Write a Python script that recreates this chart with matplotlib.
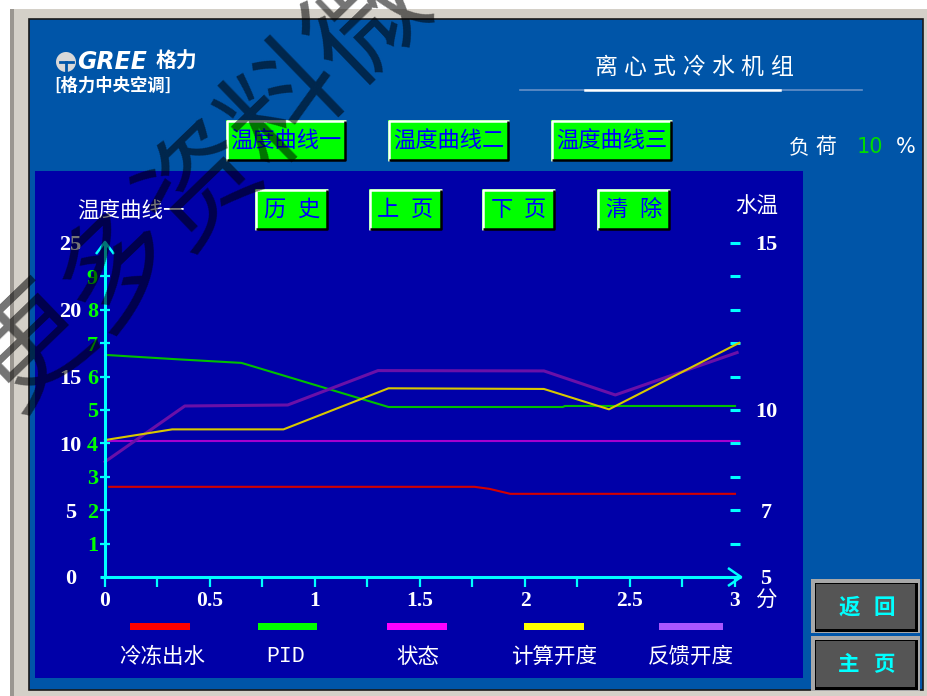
import matplotlib
matplotlib.use('Agg')
import matplotlib.pyplot as plt
from matplotlib.patches import Rectangle, Circle

plt.rcParams['font.family'] = ['Noto Sans CJK SC', 'DejaVu Sans']

# ---------------- data (primary inner scale 0..10) ----------------
red_x = [0.02, 1.76, 1.83, 1.93, 3.0]
red_y = [2.70, 2.70, 2.64, 2.49, 2.49]
pid_x = [0.0, 0.34, 0.65, 1.35, 2.18, 2.19, 3.0]
pid_y = [6.65, 6.52, 6.41, 5.09, 5.09, 5.12, 5.12]
state_x = [0.0, 3.02]
state_y = [4.06, 4.06]
calc_x = [0.0, 0.32, 0.85, 1.35, 2.09, 2.40, 3.02]
calc_y = [4.10, 4.42, 4.42, 5.65, 5.63, 5.02, 7.01]
fb_x = [0.0, 0.38, 0.87, 1.30, 2.09, 2.43, 3.01]
fb_y = [3.45, 5.12, 5.15, 6.18, 6.17, 5.45, 6.72]

series_names = ['冷冻出水', 'PID', '状态', '计算开度', '反馈开度']
line_colors = ['#D40000', '#00C000', '#A400D0', '#D8C800', '#6A10A8']
legend_colors = ['#FF0000', '#00FF00', '#FF00FF', '#FFFF00', '#AA55FF']

x_ticks = [0, 0.25, 0.5, 0.75, 1, 1.25, 1.5, 1.75, 2, 2.25, 2.5, 2.75, 3]
x_labels = ['0', '', '0.5', '', '1', '', '1.5', '', '2', '', '2.5', '', '3']
inner_ticks = [1, 2, 3, 4, 5, 6, 7, 8, 9]
outer_left_ticks = [0, 5, 10, 15, 20, 25]
water_ticks = [5, 6, 7, 8, 9, 10, 11, 12, 13, 14, 15]
water_labels = ['5', '', '7', '', '', '10', '', '', '', '', '15']

top_buttons = ['温度曲线一', '温度曲线二', '温度曲线三']
nav_buttons = [('历', '史'), ('上', '页'), ('下', '页'), ('清', '除')]

W, H = 928, 696
CYAN = '#00FFFF'
SERIF = ['Liberation Serif', 'DejaVu Serif']
CJK = ['Noto Sans CJK SC', 'DejaVu Sans']

fig = plt.figure(figsize=(W / 100, H / 100), dpi=100, facecolor='white')
bg = fig.add_axes([0, 0, 1, 1])
bg.set_xlim(0, W)
bg.set_ylim(H, 0)
bg.axis('off')


def rect(x0, y0, x1, y1, **kw):
    bg.add_patch(Rectangle((x0, y0), x1 - x0, y1 - y0, **kw))


# frame and panels
rect(10, 9, 928, 696, fc='#D4D0C8', ec='none')
rect(10, 9, 14, 696, fc='#9A9690', ec='none')
rect(29, 19, 923, 690, fc='#0055A8', ec='#1A1A1A', lw=1.2)
rect(35, 171, 803, 678, fc='#0000A8', ec='none')

# logo
bg.add_patch(Circle((66, 62), 10, fc='#D8D8D8', ec='none'))
bg.plot([60, 73], [62, 62], color='#0055A8', lw=2)
bg.plot([66, 66], [62, 72], color='#0055A8', lw=2)
bg.text(77, 62, 'GREE', color='white', fontsize=17, fontstyle='italic',
        fontweight='bold', family=['DejaVu Sans'], va='center', ha='left')
bg.text(156, 61, '格力', color='white', fontsize=15, fontweight='bold',
        family=CJK, va='center', ha='left')
bg.text(54, 86, '[格力中央空调]', color='white', fontsize=12.5, fontweight='bold',
        family=CJK, va='center', ha='left')

# title
for i, ch in enumerate('离心式冷水机组'):
    bg.text(606 + 29.2 * i, 67.5, ch, color='white', fontsize=16.5,
            family=CJK, va='center', ha='center')
bg.plot([520, 862], [90, 90], color='#7F9FD0', lw=1.2, alpha=0.8)
bg.plot([585, 780], [90, 90], color='white', lw=1.8)

# load text
bg.text(799, 147, '负', color='white', fontsize=15, family=CJK, va='center', ha='center')
bg.text(826, 147, '荷', color='white', fontsize=15, family=CJK, va='center', ha='center')
bg.text(870, 147, '10', color='#00DD00', fontsize=15, family=['DejaVu Sans'],
        va='center', ha='center')
bg.text(906, 147, '%', color='white', fontsize=15, family=['DejaVu Sans'],
        va='center', ha='center')


def green_button(x0, y0, x1, y1):
    rect(x0, y0, x1, y1, fc='#00FF00', ec='none')
    bg.plot([x0 + 1, x0 + 1, x1], [y1, y0 + 1, y0 + 1], color='white', lw=1.8,
            solid_capstyle='butt')
    bg.plot([x0 + 1, x1 - 1, x1 - 1], [y1 - 1, y1 - 1, y0 + 1], color='black', lw=1.8,
            solid_capstyle='butt')


top_boxes = [(226, 120, 346, 161), (388, 120, 509, 161), (551, 120, 672, 161)]
for (x0, y0, x1, y1), lab in zip(top_boxes, top_buttons):
    green_button(x0, y0, x1, y1)
    bg.text((x0 + x1) / 2, (y0 + y1) / 2 + 1, lab, color='#0000FF', fontsize=16,
            family=CJK, va='center', ha='center')

nav_boxes = [(255, 189, 328, 230), (369, 189, 442, 230), (482, 189, 555, 230),
             (597, 189, 670, 230)]
for (x0, y0, x1, y1), (c1, c2) in zip(nav_boxes, nav_buttons):
    green_button(x0, y0, x1, y1)
    cx, cy = (x0 + x1) / 2, (y0 + y1) / 2
    bg.text(cx - 17, cy, c1, color='#0000FF', fontsize=16, family=CJK,
            va='center', ha='center')
    bg.text(cx + 17, cy, c2, color='#0000FF', fontsize=16, family=CJK,
            va='center', ha='center')

# right grey buttons
for (y0, y1, c1, c2) in [(579, 633, '返', '回'), (636, 691, '主', '页')]:
    rect(811, y0, 920, y1, fc='#A8A8A8', ec='none')
    rect(815, y0 + 4, 918, y1 - 1, fc='#000000', ec='none')
    rect(816, y0 + 5, 915, y1 - 4, fc='#555555', ec='none')
    cy = (y0 + y1) / 2 + 1
    bg.text(849, cy, c1, color=CYAN, fontsize=15.5, fontweight='bold', family=CJK,
            va='center', ha='center')
    bg.text(884, cy, c2, color=CYAN, fontsize=15.5, fontweight='bold', family=CJK,
            va='center', ha='center')

# axis titles
bg.text(131, 211, '温度曲线一', color='white', fontsize=15.5, family=CJK,
        va='center', ha='center')
bg.text(757, 207, '水温', color='white', fontsize=15.5, family=CJK,
        va='center', ha='center')
bg.text(766, 601, '分', color='white', fontsize=15.5, family=CJK,
        va='center', ha='center')

# legend
bar_spans = [(130, 190), (258, 317), (387, 447), (524, 584), (659, 723)]
label_cx = [162, 286, 418, 554, 691]
for (x0, x1), col, name, cx in zip(bar_spans, legend_colors, series_names, label_cx):
    rect(x0, 623, x1, 629.5, fc=col, ec='none')
    fam = ['Liberation Mono', 'DejaVu Sans Mono'] if name == 'PID' else CJK
    bg.text(cx, 657, name, color='white', fontsize=15.5, family=fam,
            va='center', ha='center')

# ---------------- plot axes ----------------
ax = fig.add_axes([105 / W, 1 - 577 / H, 630 / W, 334 / H])
ax.set_xlim(0, 3)
ax.set_ylim(0, 10)
ax.patch.set_alpha(0)
for s in ax.spines.values():
    s.set_visible(False)

ax.plot(red_x, red_y, color=line_colors[0], lw=1.5, clip_on=False, zorder=2)
ax.plot(pid_x, pid_y, color=line_colors[1], lw=1.5, clip_on=False, zorder=2)
ax.plot(state_x, state_y, color=line_colors[2], lw=1.5, clip_on=False, zorder=2)
ax.plot(fb_x, fb_y, color=line_colors[4], lw=2.2, clip_on=False, zorder=2)
ax.plot(calc_x, calc_y, color=line_colors[3], lw=1.5, clip_on=False, zorder=2.1)


def pa(px, py):
    return (px - 105) / 630, (577 - py) / 334


def axline(pts, **kw):
    xs, ys = zip(*[pa(p, q) for p, q in pts])
    ax.plot(xs, ys, transform=ax.transAxes, clip_on=False, color=CYAN,
            solid_capstyle='butt', zorder=3, **kw)


axline([(105, 578), (105, 242)], lw=2.2)
axline([(96, 254), (105, 242), (114, 254)], lw=1.8)
axline([(100, 577), (741, 577)], lw=2.2)
axline([(728, 568), (741, 577), (728, 586)], lw=1.8)

ax.set_xticks(x_ticks)
ax.set_xticklabels(x_labels, fontfamily=SERIF, fontweight='bold')
ax.tick_params(axis='x', direction='out', length=7, width=1.6, color=CYAN,
               labelcolor='white', labelsize=15.5, pad=3.0)

ax.set_yticks(inner_ticks)
ax.set_yticklabels([str(v) for v in inner_ticks], fontfamily=SERIF, fontweight='bold')
ax.tick_params(axis='y', direction='inout', length=6.5, width=1.6, color=CYAN,
               labelcolor='#00FF00', labelsize=16, pad=1.8)

sec = ax.secondary_yaxis('left', functions=(lambda v: v * 2.5, lambda v: v / 2.5))
sec.set_yticks(outer_left_ticks)
sec.set_yticklabels([str(v) for v in outer_left_ticks], fontfamily=SERIF,
                    fontweight='bold')
sec.tick_params(length=0, pad=24.8, labelsize=16, labelcolor='white')
sec.spines['left'].set_visible(False)
for lab in sec.get_yticklabels():
    lab.set_ha('center')

rs = ax.secondary_yaxis('right', functions=(lambda v: v + 5, lambda v: v - 5))
rs.set_yticks(water_ticks)
rs.set_yticklabels(water_labels, fontfamily=SERIF, fontweight='bold')
rs.tick_params(direction='inout', length=6.5, width=2.2, color=CYAN, pad=19,
               labelsize=16, labelcolor='white')
rs.spines['right'].set_visible(False)
for lab in rs.get_yticklabels():
    lab.set_ha('center')

# watermark (rotated, semi-transparent, runs off the image edges like the reference)
wm_chars = '更多资料微'
step_x, step_y = 84.0, -81.0
for i, ch in enumerate(wm_chars):
    cx = 202 + (i - 2) * step_x
    cy = 187 + (i - 2) * step_y
    fig.text(cx / W, 1 - cy / H, ch, rotation=44, fontsize=84, color='black',
             alpha=0.55, ha='center', va='center', rotation_mode='anchor', family=CJK)

fig.savefig('out.png', dpi=100, facecolor='white')
